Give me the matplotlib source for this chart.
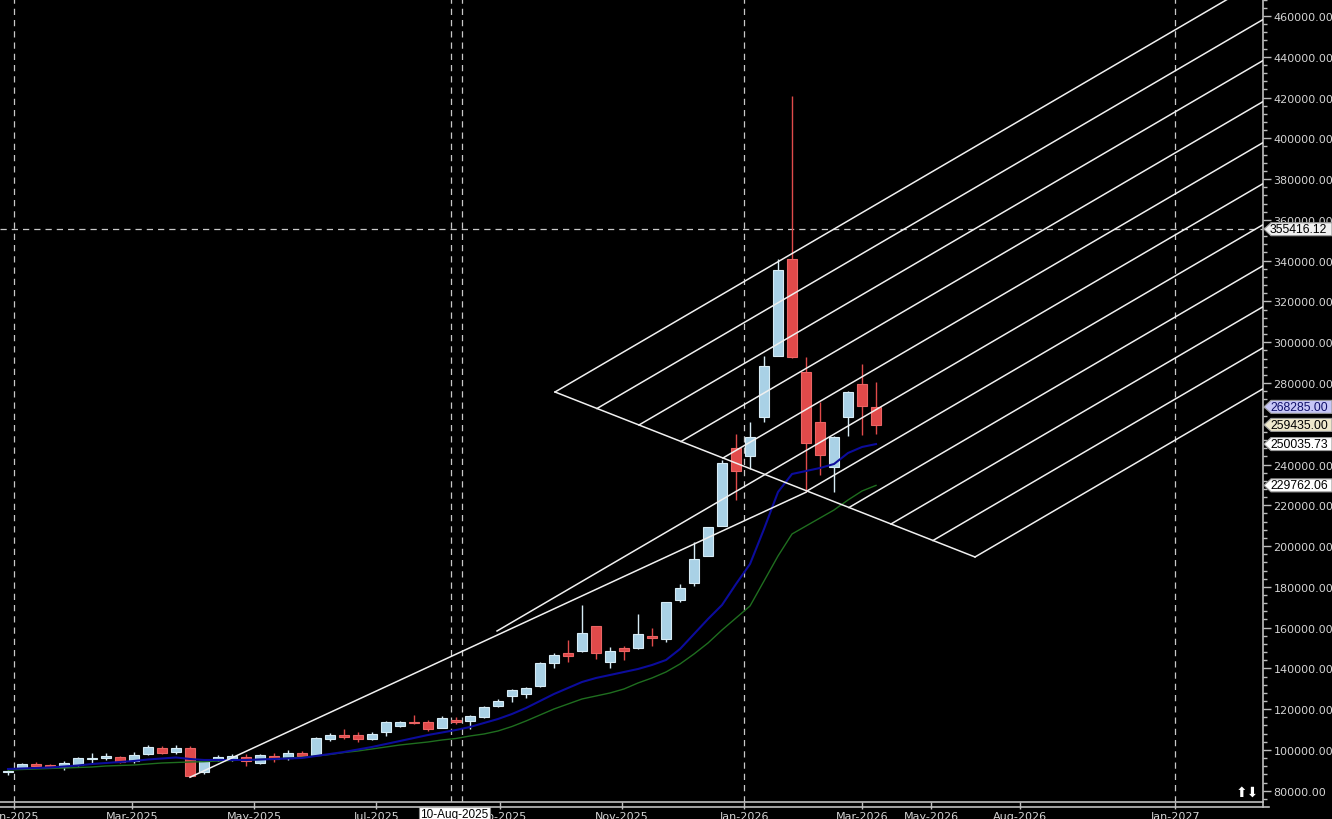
import numpy as np
import matplotlib
matplotlib.use('Agg')
import matplotlib.pyplot as plt
from matplotlib.patches import Polygon
from matplotlib.lines import Line2D
from matplotlib.transforms import IdentityTransform
from matplotlib.ticker import FixedLocator, MultipleLocator, FormatStrFormatter

# weekly candles, first bar = week of 29-Dec-2024
opens = [89000, 91300, 93100, 92600, 91600, 92800, 95400, 95900, 96500, 94400,
         98000, 101100, 98800, 100900, 89300, 95700, 95600, 96500, 93600, 97200,
         96000, 98500, 97700, 105400, 107500, 107500, 105400, 108700, 111900, 113900,
         113900, 110900, 114700, 114300, 116000, 121400, 126600, 127600, 131200, 142500,
         147400, 148700, 160800, 143300, 150000, 149900, 156000, 154400, 173700, 181900,
         195300, 210000, 248000, 244300, 263500, 293400, 340800, 285500, 261000, 238900,
         263500, 279500, 268285]
highs = [90200, 93700, 93900, 93100, 94700, 96700, 98400, 98400, 97000, 98800,
         102400, 102100, 102400, 101900, 95400, 97700, 98000, 98000, 97800, 98500,
         100000, 99300, 106500, 108200, 110300, 108700, 108700, 114100, 114300, 117300,
         114700, 116500, 116300, 117100, 121700, 125000, 129900, 131000, 143000, 147500,
         154100, 171100, 161000, 150300, 151100, 166700, 159700, 172700, 181200, 202100,
         209300, 242400, 255000, 260700, 293400, 340800, 420900, 292600, 270800, 254100,
         276200, 289300, 280300]
lows = [87900, 90800, 91500, 91500, 90200, 92300, 93500, 95100, 93500, 93700,
        97400, 98000, 98000, 86600, 88200, 94400, 94600, 92300, 93100, 94200,
        95200, 96400, 97200, 104500, 105400, 104000, 104900, 107000, 111100, 112700,
        109400, 110600, 112700, 110300, 115500, 120900, 123700, 125600, 130700, 140300,
        143000, 148200, 144600, 140000, 144300, 149500, 150800, 152800, 172700, 180600,
        195000, 209900, 222700, 237800, 261000, 293200, 292400, 226400, 234900, 226400,
        254100, 254500, 255000]
closes = [89800, 93100, 92000, 91800, 93400, 96000, 96000, 97000, 93900, 97700,
          101300, 98500, 100900, 87400, 94400, 96400, 97100, 94600, 97400, 95600,
          98500, 97200, 105900, 107300, 106500, 105400, 108000, 113600, 113700, 113100,
          110300, 115500, 113600, 116500, 120900, 124000, 129400, 130400, 142600, 146600,
          145900, 157200, 147500, 148700, 148400, 156700, 154800, 172400, 179300, 193700,
          209200, 240600, 236700, 253400, 288200, 335400, 292600, 250400, 244800, 253400,
          275400, 268900, 259435]

ma_fast = [90653, 90899, 91144, 91389, 91880, 92370, 93106, 93596, 94087, 94578,
           95313, 95804, 96294, 95558, 95068, 95068, 95068, 95068, 95313, 95558,
           95804, 96049, 97030, 98011, 98992, 100218, 101445, 102916, 104388, 105859,
           107330, 108557, 109783, 111254, 113216, 115178, 117631, 120574, 124007, 127441,
           130384, 133327, 135289, 136760, 138232, 139703, 141665, 144118, 149513, 156871,
           164228, 171095, 181396, 191206, 208373, 226525, 235351, 236823, 238294, 240256,
           245652, 248595, 250035.73]
ma_slow = [90163, 90408, 90653, 90899, 91144, 91389, 91634, 92125, 92370, 92615,
           93106, 93596, 93842, 94087, 94234, 94578, 94823, 95068, 95313, 95558,
           96049, 96392, 97030, 97766, 98747, 99487, 100468, 101449, 102430, 103166,
           103902, 104883, 105619, 106845, 107826, 109298, 111505, 114203, 117146, 120089,
           122541, 124994, 126465, 127937, 129899, 132842, 135294, 138237, 142161, 147066,
           152462, 158838, 164724, 170610, 182873, 195135, 205926, 209850, 213774, 217698,
           222603, 227017, 229762.06]

xtick_pos = [0.43, 8.86, 17.57, 26.29, 35.14, 43.86, 52.57, 61.0, 65.93, 72.29, 83.36]
xtick_labels = ['Jan-2025', 'Mar-2025', 'May-2025', 'Jul-2025', 'Sep-2025', 'Nov-2025',
                'Jan-2026', 'Mar-2026', 'May-2026', 'Aug-2026', 'Jan-2027']
vlines_x = [0.43, 31.64, 32.43, 52.57, 83.36]
cross_price = 355416.12
cursor_label = '10-Aug-2025'
cursor_x = 32

# right side price tags: value, fill, text colour
tags = [(355416.12, '#f0f0f0', '#000000'),
        (268285.00, '#c6c6f6', '#10106a'),
        (259435.00, '#eee8cc', '#000000'),
        (250035.73, '#ffffff', '#000000'),
        (229762.06, '#ffffff', '#000000')]

# pitchfork anchors (bar index, price) and trendline between two lows
fork_a = (34.93, 158342)
fork_b = (39.07, 275572)
fork_c = (69.07, 194640)
n_steps = 10
trend_bars = (13, 57)

W, H = 1332, 820
fig = plt.figure(figsize=(W / 100, H / 100), dpi=100, facecolor='black')
ax = fig.add_axes([0, 17 / H, 1263 / W, 1 - 17 / H], facecolor='black')
plt.rcParams['font.family'] = ['Liberation Sans', 'DejaVu Sans']

x = np.arange(len(opens))
o = np.array(opens, float); c = np.array(closes, float)
hi = np.array(highs, float); lo = np.array(lows, float)
up = c >= o
up_fill, up_edge = '#a9d1e6', '#d6ebf5'
dn_fill, dn_edge = '#e04a4a', '#ea6464'

ax.vlines(x[up], lo[up], hi[up], color=up_edge, lw=1, zorder=2)
ax.vlines(x[~up], lo[~up], hi[~up], color=dn_fill, lw=1, zorder=2)
body_lo = np.minimum(o, c); body_h = np.maximum(np.abs(c - o), 500)
ax.bar(x[up], body_h[up], bottom=body_lo[up], width=0.72, color=up_fill,
       edgecolor=up_edge, lw=0.8, zorder=3)
ax.bar(x[~up], body_h[~up], bottom=body_lo[~up], width=0.72, color=dn_fill,
       edgecolor=dn_edge, lw=0.8, zorder=3)

ax.plot(x, ma_slow, color='#1f6e1f', lw=1.0, zorder=4)
ax.plot(x, ma_fast, color='#0c0c9c', lw=1.5, zorder=4)

# dashed grid / crosshair
for vx in vlines_x:
    ax.axvline(vx, color='#c8c8c8', lw=0.9, ls=(0, (5, 4)), zorder=1)
ax.axhline(cross_price, color='#c8c8c8', lw=0.9, ls=(0, (5, 4)), zorder=1)

# trendline low to low
i0, i1 = trend_bars
ax.plot([i0, i1], [lows[i0], lows[i1]], color='#f0f0f0', lw=1.1, zorder=5)

# pitchfork
A = np.array(fork_a); B = np.array(fork_b); C = np.array(fork_c)
M = (B + C) / 2
d = M - A
ax.plot([B[0], C[0]], [B[1], C[1]], color='#f0f0f0', lw=1.1, zorder=5)
for k in range(n_steps + 1):
    p = B + (C - B) * k / n_steps
    start = A if k == n_steps // 2 else p
    t = (100 - start[0]) / d[0]
    end = start + d * t
    ax.plot([start[0], end[0]], [start[1], end[1]], color='#f0f0f0', lw=1.1, zorder=5)

ax.set_xlim(-0.571, 89.64)
ax.set_ylim(74459, 468339)

for s in ['top', 'left']:
    ax.spines[s].set_visible(False)
for s in ['right', 'bottom']:
    ax.spines[s].set_color('#bdbdbd')
    ax.spines[s].set_linewidth(1.2)

ax.yaxis.tick_right()
ax.yaxis.set_major_locator(MultipleLocator(20000))
ax.yaxis.set_minor_locator(MultipleLocator(4000))
ax.yaxis.set_major_formatter(FormatStrFormatter('%.2f'))
ax.tick_params(axis='y', which='major', length=6, width=1, colors='#bdbdbd',
               labelcolor='#d4d4d4', labelsize=8, pad=1.5)
ax.tick_params(axis='y', which='minor', length=3, width=1, colors='#bdbdbd')
ax.xaxis.set_major_locator(FixedLocator(xtick_pos))
ax.set_xticklabels(xtick_labels)
ax.tick_params(axis='x', length=5, width=1, colors='#bdbdbd', labelcolor='#d4d4d4',
               labelsize=8, pad=1.5)

# second frame line under the date ticks
fig.add_artist(Line2D([0, 1269], [H - 808, H - 808], transform=IdentityTransform(),
                      color='#bdbdbd', lw=1.2))
fig.add_artist(Line2D([1263, 1263], [H - 808, H - 803], transform=IdentityTransform(),
                      color='#bdbdbd', lw=1.2))

# cursor date label
ax.text(cursor_x - 0.1, -0.008, cursor_label, transform=ax.get_xaxis_transform(),
        ha='center', va='top', fontsize=8.5, color='black', zorder=10, clip_on=False,
        bbox=dict(boxstyle='square,pad=0.12', fc='white', ec='#888888', lw=0.8))

# price tags on the axis
for val, fc, tc in tags:
    py = ax.transData.transform((0, val))[1]
    pts = [(1264, py), (1271, py + 6.5), (1332, py + 6.5), (1332, py - 6.5), (1271, py - 6.5)]
    fig.add_artist(Polygon(pts, closed=True, transform=IdentityTransform(),
                           fc=fc, ec='#9a9a9a', lw=0.8, zorder=5))
    fig.text(1270 / W, py / H, f'{val:.2f}', ha='left', va='center', fontsize=8.8,
             color=tc, zorder=6)

fig.text(1247 / W, (H - 793) / H, '\u2b06\u2b07', ha='center', va='center',
         fontsize=10, color='white', family='DejaVu Sans')

fig.savefig('out.png', dpi=100, facecolor='black')
